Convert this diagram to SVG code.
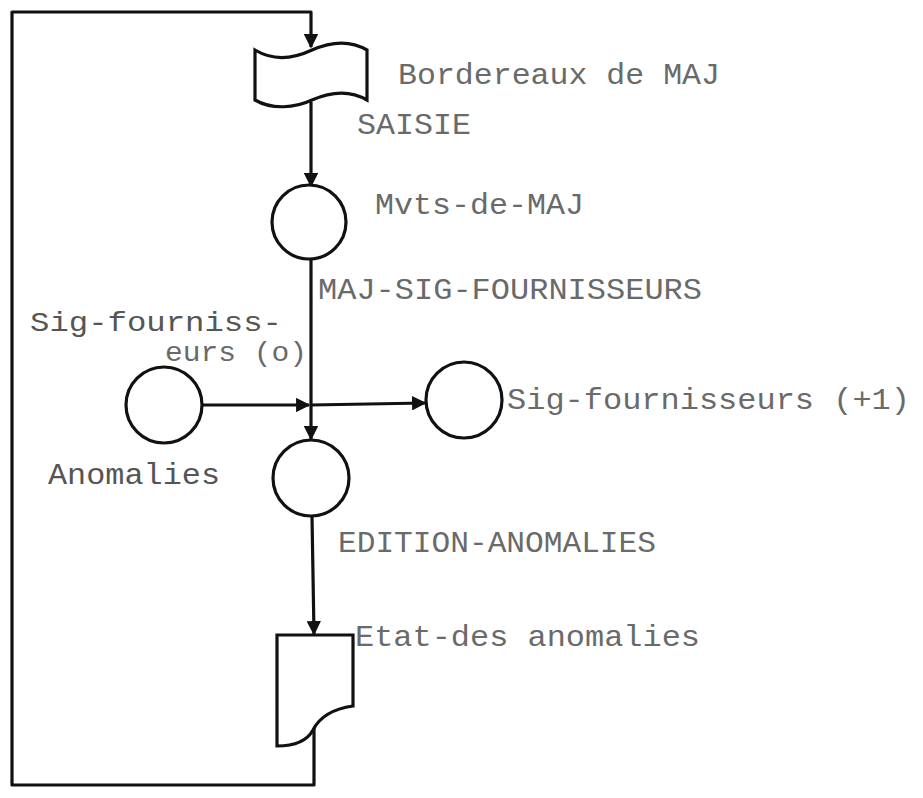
<svg xmlns="http://www.w3.org/2000/svg" width="923" height="798" viewBox="0 0 923 798">
<style>
.ln{fill:none;stroke:#111;stroke-width:3.2;stroke-linejoin:round}
.nd{fill:#fff;stroke:#111;stroke-width:3.2}
.t{font-family:"Liberation Mono","Courier New",monospace;font-size:30px;fill:#6a6a6a}
.s{font-size:27px}
.d{fill:#555}
</style>
<defs>
<marker id="ar" viewBox="0 0 10 10" refX="9" refY="5" markerWidth="4.5" markerHeight="4.5" orient="auto" markerUnits="strokeWidth">
<path d="M0,0 L10,5 L0,10 Z" fill="#111"/>
</marker>
</defs>
<rect width="923" height="798" fill="#fff"/>
<g id="connectors">
<path class="ln" d="M314,728 L314,785 L12,785 L12,12 L311,12 L311,47" marker-end="url(#ar)"/>
<path class="ln" d="M311,102 L311,186" marker-end="url(#ar)"/>
<path class="ln" d="M311,259 L311,439" marker-end="url(#ar)"/>
<path class="ln" d="M202,405 L309,405" marker-end="url(#ar)"/>
<path class="ln" d="M311,405 L425,403" marker-end="url(#ar)"/>
<path class="ln" d="M312,516 L314,634" marker-end="url(#ar)"/>
</g>
<g id="bordereaux">
<path class="nd" d="M255,50 C275,62 295,58 312,50 C330,42 350,40 367,50 L367,100 C350,90 330,92 312,100 C295,108 272,110 255,100 Z"/>
<text class="t" x="398" y="84" textLength="322" lengthAdjust="spacingAndGlyphs">Bordereaux de MAJ</text>
</g>
<g id="saisie">
<text class="t" x="357" y="134" textLength="114" lengthAdjust="spacingAndGlyphs">SAISIE</text>
</g>
<g id="mvts">
<circle class="nd" cx="309" cy="222" r="37"/>
<text class="t" x="375" y="214" textLength="209" lengthAdjust="spacingAndGlyphs">Mvts-de-MAJ</text>
</g>
<g id="maj-sig">
<text class="t" x="318" y="299" textLength="384" lengthAdjust="spacingAndGlyphs">MAJ-SIG-FOURNISSEURS</text>
</g>
<g id="sig-old">
<circle class="nd" cx="164" cy="405" r="38"/>
<text class="t s d" x="30" y="331" textLength="252" lengthAdjust="spacingAndGlyphs">Sig-fourniss-</text>
<text class="t s" x="165" y="361" textLength="142" lengthAdjust="spacingAndGlyphs">eurs (o)</text>
</g>
<g id="sig-new">
<circle class="nd" cx="464" cy="400" r="38"/>
<text class="t" x="507" y="409" textLength="403" lengthAdjust="spacingAndGlyphs">Sig-fournisseurs (+1)</text>
</g>
<g id="anomalies">
<circle class="nd" cx="311" cy="478" r="38"/>
<text class="t d" x="48" y="484" textLength="172" lengthAdjust="spacingAndGlyphs">Anomalies</text>
</g>
<g id="edition">
<text class="t" x="338" y="552" textLength="318" lengthAdjust="spacingAndGlyphs">EDITION-ANOMALIES</text>
</g>
<g id="etat">
<path class="nd" d="M277,635 L353,635 L353,706 C332,709 319,718 313,730 C306,743 292,746 277,746 Z"/>
<text class="t" x="355" y="646" textLength="345" lengthAdjust="spacingAndGlyphs">Etat-des anomalies</text>
</g>
</svg>
